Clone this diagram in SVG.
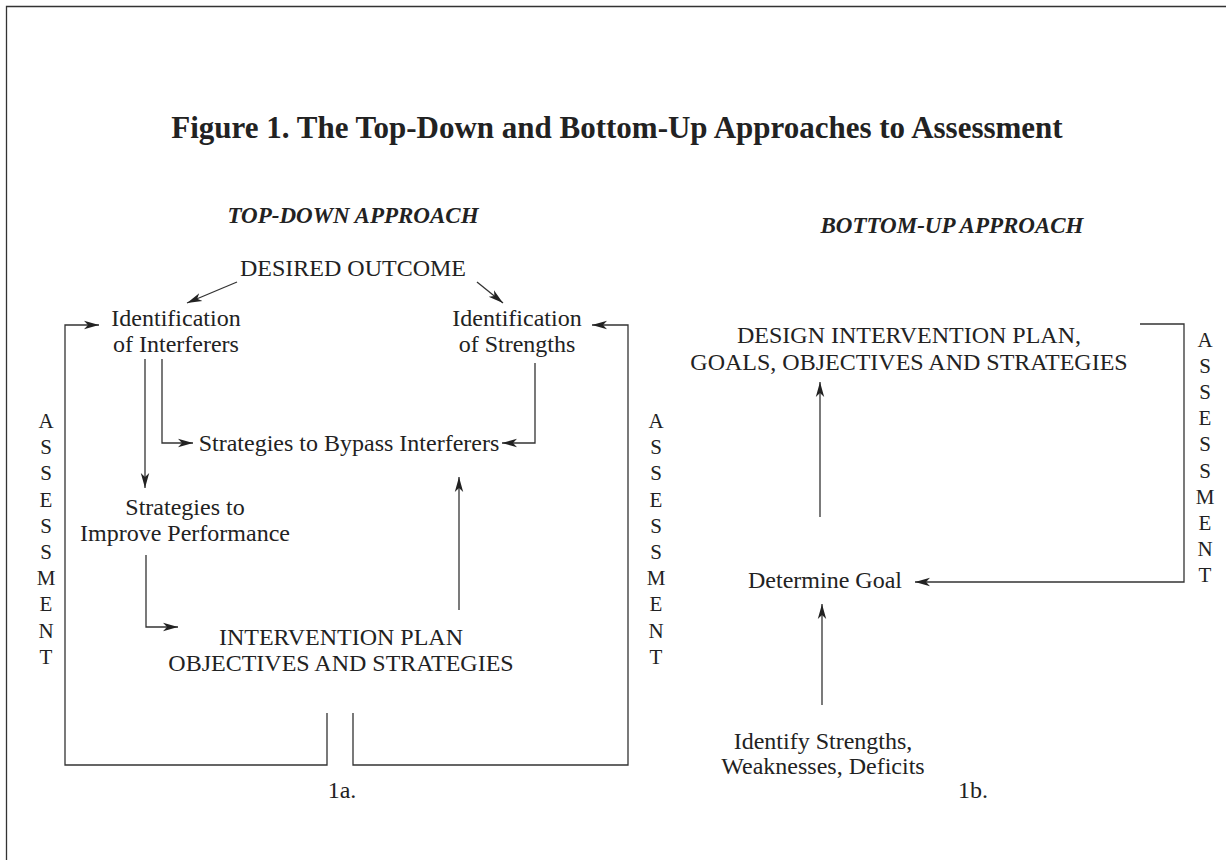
<svg xmlns="http://www.w3.org/2000/svg" width="1226" height="860" viewBox="0 0 1226 860">
<style>
text{font-family:"Liberation Serif","Times New Roman",serif;fill:#222}
.t{font-size:24px;text-anchor:middle}
.h{font-size:23px;font-weight:bold;font-style:italic;text-anchor:middle}
.ttl{font-size:31px;font-weight:bold;text-anchor:middle}
.ln{fill:none;stroke:#333;stroke-width:1.3}
.as{font-size:21px;text-anchor:middle}
</style>
<defs>
<marker id="ah" markerUnits="userSpaceOnUse" markerWidth="16" markerHeight="10" refX="15" refY="5" orient="auto">
<path d="M0,0.8 L15,5 L0,9.2 L4,5 Z" fill="#222"/>
</marker>
</defs>
<rect width="1226" height="860" fill="#fff"/>
<path class="ln" d="M6.5,860 V6.5 H1226" stroke-width="1.6"/>
<text class="ttl" x="617" y="138">Figure 1. The Top-Down and Bottom-Up Approaches to Assessment</text>
<text class="h" x="353" y="223">TOP-DOWN APPROACH</text>
<text class="h" x="952" y="233">BOTTOM-UP APPROACH</text>

<g id="desired-outcome"><text class="t" x="353" y="276">DESIRED OUTCOME</text></g>
<g id="id-interferers"><text class="t" x="176" y="326">Identification</text><text class="t" x="176" y="352">of Interferers</text></g>
<g id="id-strengths"><text class="t" x="517" y="326">Identification</text><text class="t" x="517" y="352">of Strengths</text></g>
<g id="bypass"><text class="t" x="349" y="451">Strategies to Bypass Interferers</text></g>
<g id="improve"><text class="t" x="185" y="515">Strategies to</text><text class="t" x="185" y="541">Improve Performance</text></g>
<g id="intervention"><text class="t" x="341" y="645">INTERVENTION PLAN</text><text class="t" x="341" y="671">OBJECTIVES AND STRATEGIES</text></g>
<g id="label-1a"><text class="t" x="342" y="798">1a.</text></g>
<g id="assess-l1"><text class="as" x="46" y="428"><tspan x="46">A</tspan><tspan x="46" dy="26.2">S</tspan><tspan x="46" dy="26.2">S</tspan><tspan x="46" dy="26.2">E</tspan><tspan x="46" dy="26.2">S</tspan><tspan x="46" dy="26.2">S</tspan><tspan x="46" dy="26.2">M</tspan><tspan x="46" dy="26.2">E</tspan><tspan x="46" dy="26.2">N</tspan><tspan x="46" dy="26.2">T</tspan></text></g>
<g id="assess-l2"><text class="as" x="656" y="428"><tspan x="656">A</tspan><tspan x="656" dy="26.2">S</tspan><tspan x="656" dy="26.2">S</tspan><tspan x="656" dy="26.2">E</tspan><tspan x="656" dy="26.2">S</tspan><tspan x="656" dy="26.2">S</tspan><tspan x="656" dy="26.2">M</tspan><tspan x="656" dy="26.2">E</tspan><tspan x="656" dy="26.2">N</tspan><tspan x="656" dy="26.2">T</tspan></text></g>

<g id="design-plan"><text class="t" x="909" y="343">DESIGN INTERVENTION PLAN,</text><text class="t" x="909" y="370">GOALS, OBJECTIVES AND STRATEGIES</text></g>
<g id="determine-goal"><text class="t" x="825" y="588">Determine Goal</text></g>
<g id="identify"><text class="t" x="823" y="749">Identify Strengths,</text><text class="t" x="823" y="774">Weaknesses, Deficits</text></g>
<g id="label-1b"><text class="t" x="973" y="798">1b.</text></g>
<g id="assess-r"><text class="as" x="1205" y="347"><tspan x="1205">A</tspan><tspan x="1205" dy="26.1">S</tspan><tspan x="1205" dy="26.1">S</tspan><tspan x="1205" dy="26.1">E</tspan><tspan x="1205" dy="26.1">S</tspan><tspan x="1205" dy="26.1">S</tspan><tspan x="1205" dy="26.1">M</tspan><tspan x="1205" dy="26.1">E</tspan><tspan x="1205" dy="26.1">N</tspan><tspan x="1205" dy="26.1">T</tspan></text></g>

<g id="connectors">
<path class="ln" marker-end="url(#ah)" d="M237,282 L187,303"/>
<path class="ln" marker-end="url(#ah)" d="M477,282 L503,303"/>
<path class="ln" marker-end="url(#ah)" d="M327,713 V765 H65 V325 H99"/>
<path class="ln" marker-end="url(#ah)" d="M353,713 V765 H628 V325 H592"/>
<path class="ln" marker-end="url(#ah)" d="M145,359 V488"/>
<path class="ln" marker-end="url(#ah)" d="M162,359 V443 H193"/>
<path class="ln" marker-end="url(#ah)" d="M535,363 V443 H502"/>
<path class="ln" marker-end="url(#ah)" d="M146,555 V627 H178"/>
<path class="ln" marker-end="url(#ah)" d="M459,610 V477"/>
<path class="ln" marker-end="url(#ah)" d="M820,517 V382"/>
<path class="ln" marker-end="url(#ah)" d="M1140,324 H1184 V582 H915"/>
<path class="ln" marker-end="url(#ah)" d="M822,705 V604"/>
</g>
</svg>
